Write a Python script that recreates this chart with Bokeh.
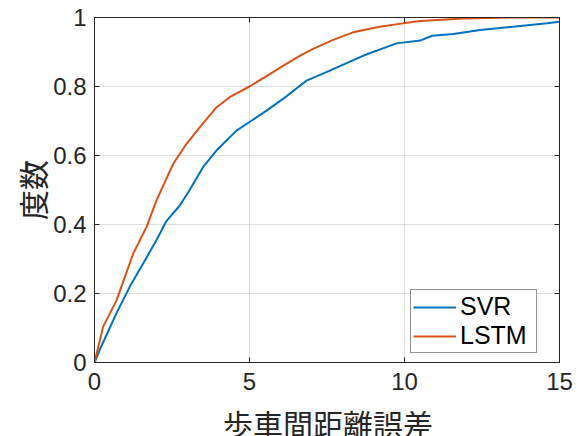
from bokeh.plotting import figure
from bokeh.models import Range1d, LinearAxis, FixedTicker, Legend, LegendItem, Label
from bokeh.embed import file_html
from bokeh.resources import INLINE

# --- data ---
svr_x = [0, 0.17, 0.71, 1.14, 1.57, 2.0, 2.32, 2.75, 3.07, 3.5, 3.94, 4.58, 5.0, 5.55, 6.08,
         6.84, 7.59, 8.66, 9.74, 10.5, 10.9, 11.57, 12.44, 13.5, 14.6, 15]
svr_y = [0, 0.037, 0.143, 0.22, 0.287, 0.355, 0.41, 0.455, 0.50, 0.566, 0.615, 0.672, 0.697,
         0.73, 0.764, 0.817, 0.846, 0.889, 0.925, 0.933, 0.947, 0.952, 0.964, 0.973, 0.983, 0.988]
lstm_x = [0, 0.28, 0.71, 1.25, 1.68, 2.0, 2.54, 2.97, 3.4, 3.94, 4.36, 5.0, 5.55, 6.08, 6.62,
          7.05, 7.70, 8.34, 9.2, 9.95, 10.5, 11.9, 13.5, 15]
lstm_y = [0, 0.104, 0.18, 0.316, 0.393, 0.47, 0.576, 0.634, 0.682, 0.74, 0.769, 0.80, 0.83,
          0.86, 0.889, 0.909, 0.935, 0.957, 0.973, 0.983, 0.99, 0.997, 1.0, 1.0]
x_ticks = [0, 5, 10, 15]
y_ticks = [0, 0.2, 0.4, 0.6, 0.8, 1]
y_tick_labels = ["0", "0.2", "0.4", "0.6", "0.8", "1"]
x_label = "歩車間距離誤差"
y_label = "度数"
series_names = ["SVR", "LSTM"]

FONT = "Noto Sans CJK JP"
TICK_FONT = "Liberation Sans"
AX = "#262626"

p = figure(width=583, height=436, output_backend="svg", toolbar_location=None,
           x_range=Range1d(0, 15), y_range=Range1d(0, 1),
           min_border_left=94, min_border_right=24, min_border_top=17, min_border_bottom=73)
p.background_fill_color = "white"
p.border_fill_color = "white"
p.outline_line_color = AX
p.outline_line_width = 1

r1 = p.line(svr_x, svr_y, line_color="#0072BD", line_width=2)
r2 = p.line(lstm_x, lstm_y, line_color="#D95319", line_width=2)

def style_axis(ax, ticks, show_labels):
    ax.ticker = FixedTicker(ticks=ticks)
    ax.axis_line_color = AX
    ax.major_tick_line_color = AX
    ax.major_tick_in = 5
    ax.major_tick_out = 0
    ax.minor_tick_line_color = None
    ax.major_label_text_font = TICK_FONT
    ax.major_label_text_color = AX
    ax.major_label_text_font_size = "24px"
    if not show_labels:
        ax.major_label_overrides = {t: "" for t in ticks}
        ax.major_label_standoff = 0

xa = p.xaxis[0]
ya = p.yaxis[0]
style_axis(xa, x_ticks, True)
style_axis(ya, y_ticks, True)
ya.major_label_overrides = {t: l for t, l in zip(y_ticks, y_tick_labels)}
xa.major_label_standoff = 10
ya.major_label_standoff = 8
ya.axis_label = y_label
ya.axis_label_text_font = FONT
ya.axis_label_text_font_size = "30px"
ya.axis_label_text_font_style = "normal"
ya.axis_label_text_color = AX
ya.axis_label_standoff = -4

top = LinearAxis()
right = LinearAxis()
style_axis(top, x_ticks, False)
style_axis(right, y_ticks, False)
p.add_layout(top, "above")
p.add_layout(right, "right")

# x-axis title in the bottom panel
p.add_layout(Label(x=233.5, y=14, x_units="screen", y_units="screen", text=x_label,
                   text_font=FONT, text_font_size="30px", text_color=AX,
                   text_line_height=0.5,
                   text_align="center", text_baseline="middle"), "below")

p.xgrid.ticker = FixedTicker(ticks=x_ticks)
p.ygrid.ticker = FixedTicker(ticks=y_ticks)
for g in (p.xgrid[0], p.ygrid[0]):
    g.grid_line_color = AX
    g.grid_line_alpha = 0.15

legend = Legend(items=[LegendItem(label=series_names[0], renderers=[r1]),
                       LegendItem(label=series_names[1], renderers=[r2])],
                location=(316, 9))
legend.label_text_font = TICK_FONT
legend.label_text_font_size = "25px"
legend.label_text_color = "black"
legend.label_height = 28
legend.glyph_height = 28
legend.glyph_width = 43
legend.label_standoff = 4
legend.spacing = -1
legend.padding = 2
legend.margin = 0
legend.label_width = 74
legend.border_line_color = AX
legend.border_line_width = 1
legend.background_fill_color = "white"
legend.background_fill_alpha = 1
p.add_layout(legend, "center")

open("out.html", "w").write(file_html(p, INLINE))
